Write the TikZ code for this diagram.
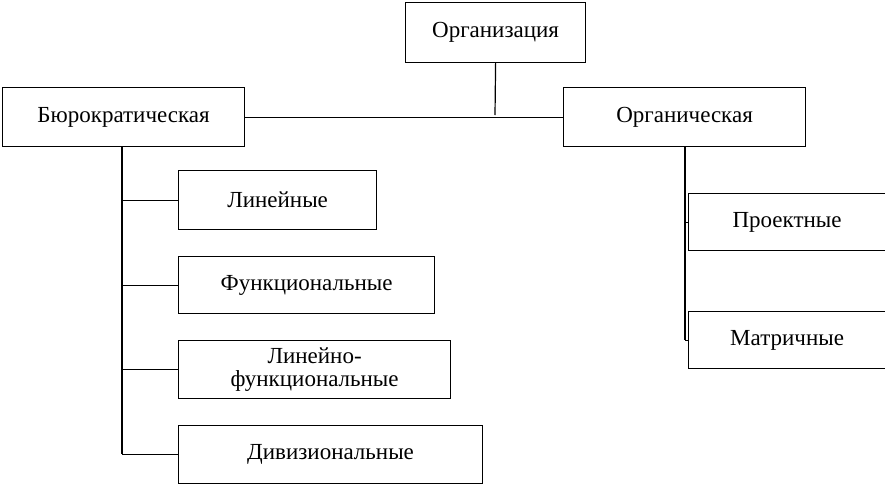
\documentclass[tikz,border=0pt]{standalone}
\usepackage{fontspec}
\setmainfont{Liberation Serif}
\begin{document}
\begin{tikzpicture}[x=1pt,y=-1pt,
  box/.style={draw,line width=1.2pt,anchor=north west,inner sep=0pt,align=center,font=\fontsize{23}{23}\selectfont},
  conn/.style={line width=1.2pt}]
\useasboundingbox (0,0) rectangle (885,485);
\newcommand\bx[6]{\node[box,minimum width=#4-#2,minimum height=#5-#3] (#1) at (#2,#3) {#6};}
\bx{org}{405}{2}{585}{62}{Организация}
\bx{bur}{2}{87}{244}{146}{Бюрократическая}
\bx{orgn}{563}{87}{805}{146}{Органическая}
\bx{lin}{178}{170}{376}{229}{Линейные}
\bx{fun}{178}{256}{434}{313}{Функциональные}
\node[box,minimum width=272,minimum height=58,font=\fontsize{23}{23}\selectfont,align=center] (linf) at (178,340) {Линейно-\\функциональные};
\bx{div}{178}{425}{482}{483}{Дивизиональные}
\bx{pro}{688}{193}{885}{250}{Проектные}
\bx{mat}{688}{311}{885}{368}{Матричные}
\coordinate (j) at (495,115);
\draw[conn] (org.south) -- (j);
\draw[conn] (bur.east) -- (orgn.west);
\draw[conn] (122,146) -- (122,454);
\foreach \n in {lin,fun,linf,div} \draw[conn] (\n.west) -- (122,0 |- \n.west);
\draw[conn] (685,146) -- (685,340);
\foreach \n in {pro,mat} \draw[conn] (\n.west) -- (685,0 |- \n.west);
\end{tikzpicture}
\end{document}
